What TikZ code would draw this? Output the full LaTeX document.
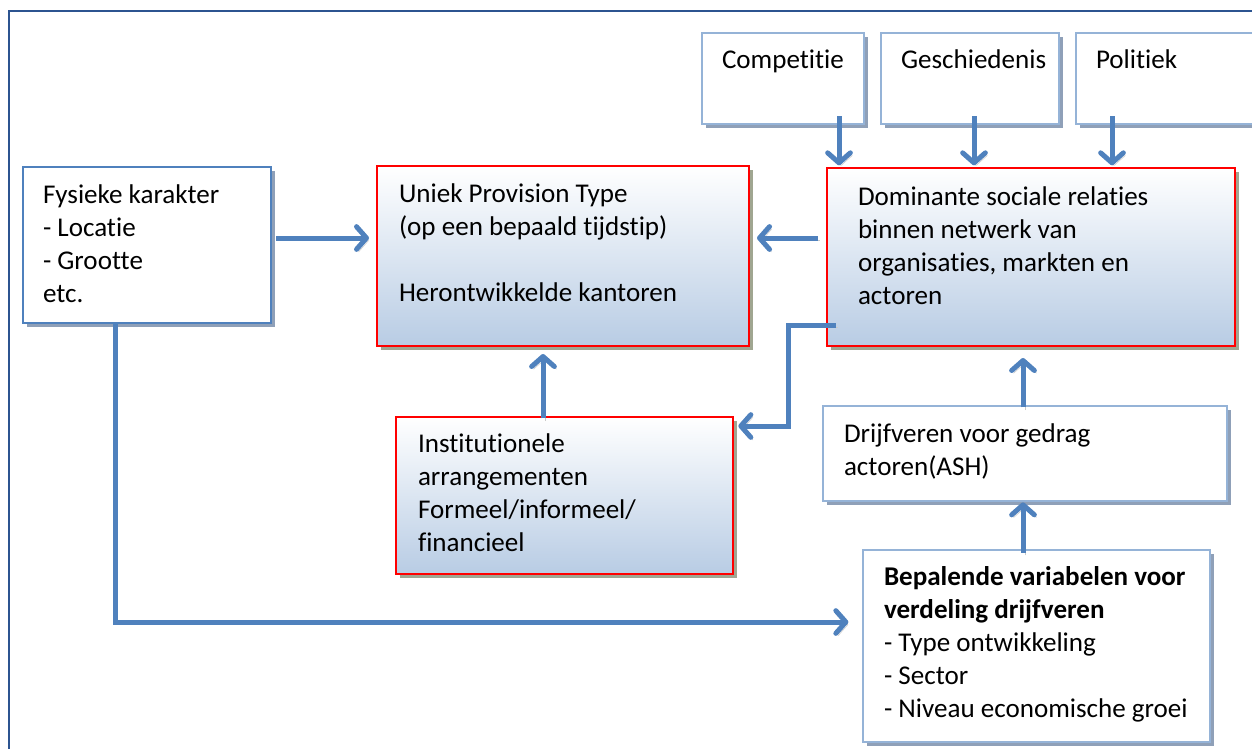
\documentclass[tikz,border=0pt]{standalone}
\usepackage{fontspec}
\setmainfont{Carlito}[Ligatures=NoCommon]
\usetikzlibrary{arrows.meta,shadows,fit}
\definecolor{framedark}{HTML}{2C5490}
\definecolor{linkblue}{HTML}{4F81BD}
\definecolor{paleblue}{HTML}{95B3D7}
\definecolor{fadeblue}{HTML}{B8CCE4}
\definecolor{boxred}{HTML}{FF0000}
\definecolor{shadowblue}{HTML}{8FA0B8}
\definecolor{shadowolive}{HTML}{A0A691}
\definecolor{arrowshade}{HTML}{CACACA}

\begin{document}
\begin{tikzpicture}[x=0.75pt,y=-0.75pt,
  every node/.style={inner sep=0pt, outer sep=0pt},
  basebox/.style={draw, line width=2.2pt, inner sep=0pt},
  plainbox/.style={basebox, draw=paleblue, fill=white,
    drop shadow={shadow xshift=3pt, shadow yshift=-3pt, fill=shadowblue, opacity=1}},
  sidebox/.style={plainbox, draw=linkblue},
  keybox/.style={basebox, draw=boxred, top color=white, bottom color=fadeblue,
    drop shadow={shadow xshift=3pt, shadow yshift=-3pt, fill=shadowolive, opacity=1}},
  % multi-line texts are placed by the baseline of their last line
  txt/.style={anchor=base west, align=left, font=\fontsize{20.3}{24.75}\selectfont},
  conn/.style={draw=linkblue, line width=3.75pt,
    -{Straight Barb[length=7.5pt,width=17pt,round]},
    preaction={draw=arrowshade, transform canvas={shift={(1.5pt,-2pt)}}}}
]
\clip (0,0) rectangle (1252,749);

% outer frame
\draw[framedark, line width=1.6pt] (9,760) -- (9,11) -- (1260,11);

% boxes
\node[plainbox, fit={(702,33)(864,124)}] (comp) {};
\node[plainbox, fit={(881,33)(1059,124)}] (gesch) {};
\node[plainbox, fit={(1076,33)(1270,124)}] (polit) {};
\node[keybox, fit={(827,168)(1235,346)}] (dom) {};
\node[keybox, fit={(377,166)(749,346)}] (uniek) {};
\node[sidebox, fit={(23,167)(271,323)}] (fys) {};
\node[keybox, fit={(396,417)(733,574)}] (inst) {};
\node[plainbox, fit={(823,406)(1227,501)}] (drijf) {};
\node[plainbox, fit={(863,550)(1210,742)}] (bep) {};

% texts
\node[txt] (compT) at (722,69) {Competitie};
\node[txt] (geschT) at (901,69) {Geschiedenis};
\node[txt] (politT) at (1096,69) {Politiek};
\node[txt] (fysT) at (43,302) {Fysieke karakter\\- Locatie\\- Grootte\\etc.};
\node[txt] (uniekT) at (399,301) {Uniek Provision Type\\(op een bepaald tijdstip)\\[24.75pt]Herontwikkelde kantoren};
\node[txt] (domT) at (858,304) {Dominante sociale relaties\\binnen netwerk van\\organisaties, markten en\\actoren};
\node[txt] (instT) at (418,551) {Institutionele\\arrangementen\\Formeel/informeel/\\financieel};
\node[txt] (drijfT) at (844,475) {Drijfveren voor gedrag\\actoren(ASH)};
\node[txt] (bepT) at (884,717) {\textbf{Bepalende variabelen voor}\\\textbf{verdeling drijfveren}\\- Type ontwikkeling\\- Sector\\- Niveau economische groei};

% helper levels for the connectors
\coordinate (lvlA) at (0,238);
\coordinate (lvlB) at (0,325);
\coordinate (lvlC) at (0,426);
\coordinate (lvlD) at (0,622);
\coordinate (colA) at (839,0);
\coordinate (colB) at (974,0);
\coordinate (colC) at (1112,0);
\coordinate (colD) at (1023,0);
\coordinate (colE) at (543,0);
\coordinate (colF) at (788,0);
\coordinate (colG) at (115,0);

% connectors
\draw[conn, shorten <=-6pt, shorten >=2pt] (comp.south -| colA) -- (dom.north -| colA);
\draw[conn, shorten <=-6pt, shorten >=2pt] (gesch.south -| colB) -- (dom.north -| colB);
\draw[conn, shorten <=-6pt, shorten >=2pt] (polit.south -| colC) -- (dom.north -| colC);
\draw[conn, shorten <=4pt, shorten >=6pt] (fys.east |- lvlA) -- (uniek.west |- lvlA);
\draw[conn, shorten <=7pt, shorten >=6pt] (dom.west |- lvlA) -- (uniek.east |- lvlA);
\draw[conn, shorten <=-1pt, shorten >=6pt] (inst.north -| colE) -- (uniek.south -| colE);
\draw[conn, shorten <=-7pt, shorten >=4pt] (dom.west |- lvlB) -- (colF |- lvlB) -- (colF |- lvlC) -- (inst.east |- lvlC);
\draw[conn, shorten <=-1pt, shorten >=9pt] (drijf.north -| colD) -- (dom.south -| colD);
\draw[conn, shorten <=-2pt, shorten >=1pt] (bep.north -| colD) -- (drijf.south -| colD);
\draw[conn, shorten <=0pt, shorten >=11pt] (fys.south -| colG) -- (colG |- lvlD) -- (bep.west |- lvlD);
\end{tikzpicture}
\end{document}
